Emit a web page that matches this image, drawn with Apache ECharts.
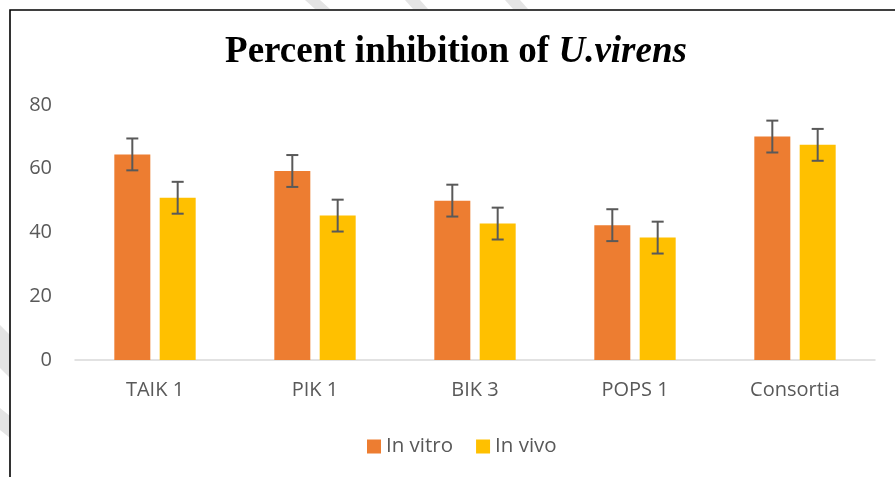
<!DOCTYPE html>
<html>
<head>
<meta charset="utf-8">
<script src="https://cdn.jsdelivr.net/npm/echarts@6/dist/echarts.min.js"></script>
<style>
html,body{margin:0;padding:0;background:#fff;}
#c{width:895px;height:477px;}
</style>
</head>
<body>
<div id="c"></div>
<script>
var categories = ['TAIK 1', 'PIK 1', 'BIK 3', 'POPS 1', 'Consortia'];
var inVitro = [64.5, 59.3, 50.0, 42.3, 70.1];
var inVivo = [50.9, 45.3, 42.8, 38.4, 67.5];
var errVitro = [5, 5, 5, 5, 5];
var errVivo = [5, 5, 5, 5, 5];
var yTicks = [0, 20, 40, 60, 80];

var BAR_W = 0.225, BAR_GAP = 0.26;

function errorSeries(values, errs, sign) {
  return {
    type: 'custom',
    z: 10,
    silent: true,
    data: values.map(function (v, i) { return [i, v - errs[i], v + errs[i]]; }),
    encode: { x: 0, y: [1, 2] },
    renderItem: function (params, api) {
      var i = api.value(0);
      var lo = api.coord([i, api.value(1)]);
      var hi = api.coord([i, api.value(2)]);
      var band = api.size([1, 0])[0];
      var off = sign * band * BAR_W * (1 + BAR_GAP) / 2;
      var x = lo[0] + off;
      var cap = 6;
      var st = { stroke: '#595959', lineWidth: 2 };
      return {
        type: 'group',
        children: [
          { type: 'line', shape: { x1: x, y1: hi[1], x2: x, y2: lo[1] }, style: st },
          { type: 'line', shape: { x1: x - cap, y1: hi[1], x2: x + cap, y2: hi[1] }, style: st },
          { type: 'line', shape: { x1: x - cap, y1: lo[1], x2: x + cap, y2: lo[1] }, style: st }
        ]
      };
    }
  };
}

var chart = echarts.init(document.getElementById('c'), null, { renderer: 'canvas' });
var wm = '#e4e4e4';
chart.setOption({
  animation: false,
  backgroundColor: '#fff',
  title: {
    text: '{a|Percent inhibition of }{b|U.virens}',
    left: 451,
    textAlign: 'center',
    top: 29,
    textStyle: {
      rich: {
        a: { fontFamily: 'Liberation Serif', fontWeight: 'bold', fontSize: 37, color: '#000' },
        b: { fontFamily: 'Liberation Serif', fontWeight: 'bold', fontStyle: 'italic', fontSize: 37, color: '#000' }
      }
    }
  },
  legend: {
    data: ['In vitro', 'In vivo'],
    left: 362,
    top: 431,
    itemWidth: 14,
    itemHeight: 14,
    itemGap: 23,
    icon: 'rect',
    textStyle: { fontFamily: 'Open Sans', fontSize: 20.5, color: '#595959' }
  },
  grid: { left: 75, right: 20, top: 105, bottom: 117 },
  xAxis: {
    type: 'category',
    data: categories,
    axisLine: { lineStyle: { color: '#d9d9d9', width: 1.5 } },
    axisTick: { show: false },
    axisLabel: { fontFamily: 'Open Sans', fontSize: 20, color: '#595959', margin: 20 }
  },
  yAxis: {
    type: 'value',
    min: yTicks[0],
    max: yTicks[yTicks.length - 1],
    interval: yTicks[1] - yTicks[0],
    splitLine: { show: false },
    axisLine: { show: false },
    axisTick: { show: false },
    axisLabel: { fontFamily: 'Open Sans', fontSize: 20, color: '#595959', margin: 23 }
  },
  series: [
    { name: 'In vitro', type: 'bar', data: inVitro, barWidth: (BAR_W * 100) + '%', barGap: (BAR_GAP * 100) + '%', itemStyle: { color: '#ED7D31' } },
    { name: 'In vivo', type: 'bar', data: inVivo, barWidth: (BAR_W * 100) + '%', itemStyle: { color: '#FFC000' } },
    errorSeries(inVitro, errVitro, -1),
    errorSeries(inVivo, errVivo, 1)
  ],
  graphic: [
    { type: 'polygon', shape: { points: [[0, 325], [10, 335], [10, 378], [0, 368]] }, style: { fill: wm }, z: -1 },
    { type: 'polygon', shape: { points: [[0, 408], [10, 416], [10, 438], [0, 430]] }, style: { fill: wm }, z: -1 },
    { type: 'polygon', shape: { points: [[305, 0], [320, 0], [330, 9], [315, 9]] }, style: { fill: wm }, z: -1 },
    { type: 'polygon', shape: { points: [[405, 0], [420, 0], [428, 9], [413, 9]] }, style: { fill: wm }, z: -1 },
    { type: 'polygon', shape: { points: [[505, 0], [520, 0], [528, 9], [513, 9]] }, style: { fill: wm }, z: -1 },
    { type: 'rect', shape: { x: 10, y: 10, width: 1000, height: 1000 }, style: { fill: null, stroke: '#000', lineWidth: 1.6 }, z: 100 }
  ]
});
</script>
</body>
</html>
